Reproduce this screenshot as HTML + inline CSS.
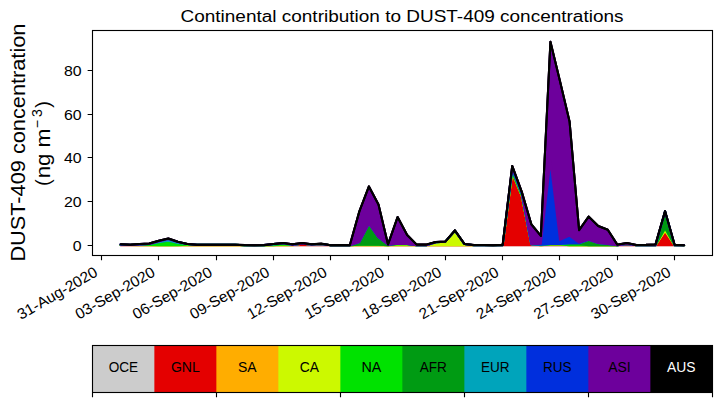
<!DOCTYPE html><html><head><meta charset="utf-8"><style>html,body{margin:0;padding:0;background:#fff;}svg{display:block;}text{font-family:"Liberation Sans",sans-serif;}</style></head><body>
<svg width="721" height="402" viewBox="0 0 721 402">
<rect width="721" height="402" fill="#fff"/>
<defs><clipPath id="ax"><rect x="92.5" y="30.5" width="620.0" height="225.0"/></clipPath></defs>
<g clip-path="url(#ax)">
<path d="M120.54 245.27 L130.09 245.27 L139.65 245.27 L149.20 245.27 L158.75 245.27 L168.31 245.27 L177.86 245.27 L187.41 245.27 L196.97 245.27 L206.52 245.27 L216.07 245.27 L225.63 245.27 L235.18 245.27 L244.73 245.27 L254.29 245.27 L263.84 245.27 L273.39 245.27 L282.95 245.27 L292.50 245.27 L302.05 245.27 L311.60 245.27 L321.16 245.27 L330.71 245.27 L340.26 245.27 L349.82 245.27 L359.37 245.27 L368.92 245.27 L378.48 245.27 L388.03 245.27 L397.58 245.27 L407.14 245.27 L416.69 245.27 L426.24 245.27 L435.80 245.27 L445.35 245.27 L454.90 245.27 L464.46 245.27 L474.01 245.27 L483.56 245.27 L493.12 245.27 L502.67 245.27 L512.22 245.27 L521.77 245.27 L531.33 245.27 L540.88 245.27 L550.43 245.27 L559.99 245.27 L569.54 245.27 L579.09 245.27 L588.65 245.27 L598.20 245.27 L607.75 245.27 L617.31 245.27 L626.86 245.27 L636.41 245.27 L645.97 245.27 L655.52 245.27 L665.07 245.27 L674.63 245.27 L684.18 245.27 L684.18 245.27 L674.63 245.27 L665.07 245.27 L655.52 245.27 L645.97 245.27 L636.41 245.27 L626.86 245.27 L617.31 245.27 L607.75 245.27 L598.20 245.27 L588.65 245.27 L579.09 245.27 L569.54 245.27 L559.99 245.27 L550.43 245.27 L540.88 245.27 L531.33 245.27 L521.77 245.27 L512.22 245.27 L502.67 245.27 L493.12 245.27 L483.56 245.27 L474.01 245.27 L464.46 245.27 L454.90 245.27 L445.35 245.27 L435.80 245.27 L426.24 245.27 L416.69 245.27 L407.14 245.27 L397.58 245.27 L388.03 245.27 L378.48 245.27 L368.92 245.27 L359.37 245.27 L349.82 245.27 L340.26 245.27 L330.71 245.27 L321.16 245.27 L311.60 245.27 L302.05 245.27 L292.50 245.27 L282.95 245.27 L273.39 245.27 L263.84 245.27 L254.29 245.27 L244.73 245.27 L235.18 245.27 L225.63 245.27 L216.07 245.27 L206.52 245.27 L196.97 245.27 L187.41 245.27 L177.86 245.27 L168.31 245.27 L158.75 245.27 L149.20 245.27 L139.65 245.27 L130.09 245.27 L120.54 245.27Z" fill="#cccccc" stroke="#cccccc" stroke-width="2.0" stroke-linejoin="round"/>
<path d="M120.54 244.94 L130.09 245.05 L139.65 245.27 L149.20 245.27 L158.75 245.27 L168.31 245.27 L177.86 245.27 L187.41 245.27 L196.97 245.27 L206.52 245.27 L216.07 245.27 L225.63 245.27 L235.18 245.27 L244.73 245.27 L254.29 245.27 L263.84 245.27 L273.39 245.27 L282.95 245.27 L292.50 245.27 L302.05 243.74 L311.60 244.62 L321.16 243.96 L330.71 245.27 L340.26 245.27 L349.82 245.27 L359.37 245.27 L368.92 245.27 L378.48 245.27 L388.03 245.27 L397.58 245.27 L407.14 245.27 L416.69 245.27 L426.24 245.27 L435.80 245.27 L445.35 245.27 L454.90 245.27 L464.46 245.27 L474.01 245.27 L483.56 245.27 L493.12 245.27 L502.67 245.27 L512.22 172.64 L521.77 196.05 L531.33 244.40 L540.88 245.27 L550.43 244.62 L559.99 244.62 L569.54 245.27 L579.09 245.27 L588.65 245.27 L598.20 245.27 L607.75 245.27 L617.31 245.27 L626.86 243.96 L636.41 245.27 L645.97 245.27 L655.52 245.27 L665.07 230.83 L674.63 245.27 L684.18 245.27 L684.18 245.27 L674.63 245.27 L665.07 245.27 L655.52 245.27 L645.97 245.27 L636.41 245.27 L626.86 245.27 L617.31 245.27 L607.75 245.27 L598.20 245.27 L588.65 245.27 L579.09 245.27 L569.54 245.27 L559.99 245.27 L550.43 245.27 L540.88 245.27 L531.33 245.27 L521.77 245.27 L512.22 245.27 L502.67 245.27 L493.12 245.27 L483.56 245.27 L474.01 245.27 L464.46 245.27 L454.90 245.27 L445.35 245.27 L435.80 245.27 L426.24 245.27 L416.69 245.27 L407.14 245.27 L397.58 245.27 L388.03 245.27 L378.48 245.27 L368.92 245.27 L359.37 245.27 L349.82 245.27 L340.26 245.27 L330.71 245.27 L321.16 245.27 L311.60 245.27 L302.05 245.27 L292.50 245.27 L282.95 245.27 L273.39 245.27 L263.84 245.27 L254.29 245.27 L244.73 245.27 L235.18 245.27 L225.63 245.27 L216.07 245.27 L206.52 245.27 L196.97 245.27 L187.41 245.27 L177.86 245.27 L168.31 245.27 L158.75 245.27 L149.20 245.27 L139.65 245.27 L130.09 245.27 L120.54 245.27Z" fill="#e40000" stroke="#e40000" stroke-width="2.0" stroke-linejoin="round"/>
<path d="M120.54 244.88 L130.09 244.99 L139.65 245.21 L149.20 245.21 L158.75 245.21 L168.31 245.21 L177.86 245.21 L187.41 245.21 L196.97 245.21 L206.52 245.21 L216.07 245.21 L225.63 245.21 L235.18 245.21 L244.73 245.21 L254.29 245.21 L263.84 245.21 L273.39 245.21 L282.95 245.21 L292.50 245.21 L302.05 243.68 L311.60 244.55 L321.16 243.89 L330.71 245.21 L340.26 245.21 L349.82 245.21 L359.37 245.21 L368.92 245.21 L378.48 245.21 L388.03 245.21 L397.58 245.21 L407.14 245.21 L416.69 245.21 L426.24 245.21 L435.80 245.21 L445.35 245.21 L454.90 245.21 L464.46 245.21 L474.01 245.21 L483.56 245.21 L493.12 245.21 L502.67 245.21 L512.22 172.58 L521.77 195.98 L531.33 244.33 L540.88 245.21 L550.43 244.55 L559.99 244.55 L569.54 245.21 L579.09 245.21 L588.65 245.21 L598.20 245.21 L607.75 245.21 L617.31 245.21 L626.86 243.89 L636.41 245.21 L645.97 245.21 L655.52 245.21 L665.07 230.77 L674.63 245.21 L684.18 245.21 L684.18 245.27 L674.63 245.27 L665.07 230.83 L655.52 245.27 L645.97 245.27 L636.41 245.27 L626.86 243.96 L617.31 245.27 L607.75 245.27 L598.20 245.27 L588.65 245.27 L579.09 245.27 L569.54 245.27 L559.99 244.62 L550.43 244.62 L540.88 245.27 L531.33 244.40 L521.77 196.05 L512.22 172.64 L502.67 245.27 L493.12 245.27 L483.56 245.27 L474.01 245.27 L464.46 245.27 L454.90 245.27 L445.35 245.27 L435.80 245.27 L426.24 245.27 L416.69 245.27 L407.14 245.27 L397.58 245.27 L388.03 245.27 L378.48 245.27 L368.92 245.27 L359.37 245.27 L349.82 245.27 L340.26 245.27 L330.71 245.27 L321.16 243.96 L311.60 244.62 L302.05 243.74 L292.50 245.27 L282.95 245.27 L273.39 245.27 L263.84 245.27 L254.29 245.27 L244.73 245.27 L235.18 245.27 L225.63 245.27 L216.07 245.27 L206.52 245.27 L196.97 245.27 L187.41 245.27 L177.86 245.27 L168.31 245.27 L158.75 245.27 L149.20 245.27 L139.65 245.27 L130.09 245.05 L120.54 244.94Z" fill="#ffad00" stroke="#ffad00" stroke-width="2.0" stroke-linejoin="round"/>
<path d="M120.54 244.88 L130.09 244.99 L139.65 244.99 L149.20 244.99 L158.75 245.21 L168.31 245.21 L177.86 245.21 L187.41 244.77 L196.97 244.77 L206.52 244.77 L216.07 244.77 L225.63 244.77 L235.18 244.77 L244.73 245.21 L254.29 245.21 L263.84 245.21 L273.39 245.21 L282.95 244.55 L292.50 244.77 L302.05 243.68 L311.60 244.55 L321.16 243.89 L330.71 245.21 L340.26 245.21 L349.82 245.21 L359.37 244.77 L368.92 244.77 L378.48 244.77 L388.03 245.21 L397.58 244.55 L407.14 244.55 L416.69 245.21 L426.24 245.21 L435.80 242.25 L445.35 241.71 L454.90 230.77 L464.46 244.11 L474.01 245.21 L483.56 245.21 L493.12 245.21 L502.67 245.21 L512.22 172.58 L521.77 195.98 L531.33 244.33 L540.88 245.21 L550.43 244.55 L559.99 244.55 L569.54 245.21 L579.09 245.21 L588.65 245.21 L598.20 245.21 L607.75 245.21 L617.31 245.21 L626.86 243.89 L636.41 245.21 L645.97 245.21 L655.52 245.21 L665.07 228.80 L674.63 245.21 L684.18 245.21 L684.18 245.21 L674.63 245.21 L665.07 230.77 L655.52 245.21 L645.97 245.21 L636.41 245.21 L626.86 243.89 L617.31 245.21 L607.75 245.21 L598.20 245.21 L588.65 245.21 L579.09 245.21 L569.54 245.21 L559.99 244.55 L550.43 244.55 L540.88 245.21 L531.33 244.33 L521.77 195.98 L512.22 172.58 L502.67 245.21 L493.12 245.21 L483.56 245.21 L474.01 245.21 L464.46 245.21 L454.90 245.21 L445.35 245.21 L435.80 245.21 L426.24 245.21 L416.69 245.21 L407.14 245.21 L397.58 245.21 L388.03 245.21 L378.48 245.21 L368.92 245.21 L359.37 245.21 L349.82 245.21 L340.26 245.21 L330.71 245.21 L321.16 243.89 L311.60 244.55 L302.05 243.68 L292.50 245.21 L282.95 245.21 L273.39 245.21 L263.84 245.21 L254.29 245.21 L244.73 245.21 L235.18 245.21 L225.63 245.21 L216.07 245.21 L206.52 245.21 L196.97 245.21 L187.41 245.21 L177.86 245.21 L168.31 245.21 L158.75 245.21 L149.20 245.21 L139.65 245.21 L130.09 244.99 L120.54 244.88Z" fill="#ccf900" stroke="#ccf900" stroke-width="2.0" stroke-linejoin="round"/>
<path d="M120.54 244.66 L130.09 244.99 L139.65 244.55 L149.20 244.11 L158.75 242.36 L168.31 240.83 L177.86 243.02 L187.41 244.11 L196.97 244.77 L206.52 244.77 L216.07 244.77 L225.63 244.77 L235.18 244.77 L244.73 245.21 L254.29 245.21 L263.84 245.21 L273.39 244.44 L282.95 243.79 L292.50 244.77 L302.05 243.68 L311.60 244.55 L321.16 243.89 L330.71 245.21 L340.26 245.21 L349.82 245.21 L359.37 244.77 L368.92 244.77 L378.48 244.77 L388.03 245.21 L397.58 243.68 L407.14 243.89 L416.69 245.21 L426.24 245.21 L435.80 242.25 L445.35 241.71 L454.90 230.77 L464.46 244.11 L474.01 245.21 L483.56 245.21 L493.12 245.21 L502.67 245.21 L512.22 170.39 L521.77 194.89 L531.33 244.33 L540.88 244.77 L550.43 243.89 L559.99 243.89 L569.54 244.33 L579.09 244.11 L588.65 245.21 L598.20 245.21 L607.75 245.21 L617.31 245.21 L626.86 243.89 L636.41 245.21 L645.97 245.21 L655.52 245.21 L665.07 227.71 L674.63 245.21 L684.18 245.21 L684.18 245.21 L674.63 245.21 L665.07 228.80 L655.52 245.21 L645.97 245.21 L636.41 245.21 L626.86 243.89 L617.31 245.21 L607.75 245.21 L598.20 245.21 L588.65 245.21 L579.09 245.21 L569.54 245.21 L559.99 244.55 L550.43 244.55 L540.88 245.21 L531.33 244.33 L521.77 195.98 L512.22 172.58 L502.67 245.21 L493.12 245.21 L483.56 245.21 L474.01 245.21 L464.46 244.11 L454.90 230.77 L445.35 241.71 L435.80 242.25 L426.24 245.21 L416.69 245.21 L407.14 244.55 L397.58 244.55 L388.03 245.21 L378.48 244.77 L368.92 244.77 L359.37 244.77 L349.82 245.21 L340.26 245.21 L330.71 245.21 L321.16 243.89 L311.60 244.55 L302.05 243.68 L292.50 244.77 L282.95 244.55 L273.39 245.21 L263.84 245.21 L254.29 245.21 L244.73 245.21 L235.18 244.77 L225.63 244.77 L216.07 244.77 L206.52 244.77 L196.97 244.77 L187.41 244.77 L177.86 245.21 L168.31 245.21 L158.75 245.21 L149.20 244.99 L139.65 244.99 L130.09 244.99 L120.54 244.88Z" fill="#00e200" stroke="#00e200" stroke-width="2.0" stroke-linejoin="round"/>
<path d="M120.54 244.66 L130.09 244.99 L139.65 244.55 L149.20 244.11 L158.75 242.36 L168.31 240.83 L177.86 243.02 L187.41 244.11 L196.97 244.77 L206.52 244.77 L216.07 244.77 L225.63 244.77 L235.18 244.77 L244.73 245.21 L254.29 245.21 L263.84 245.21 L273.39 244.44 L282.95 243.79 L292.50 244.77 L302.05 243.68 L311.60 244.55 L321.16 243.89 L330.71 245.21 L340.26 245.21 L349.82 245.21 L359.37 242.14 L368.92 223.77 L378.48 237.33 L388.03 244.77 L397.58 243.68 L407.14 243.89 L416.69 245.21 L426.24 245.21 L435.80 242.25 L445.35 241.71 L454.90 230.77 L464.46 244.11 L474.01 245.21 L483.56 245.21 L493.12 245.21 L502.67 245.21 L512.22 169.73 L521.77 194.23 L531.33 244.33 L540.88 244.77 L550.43 243.89 L559.99 243.89 L569.54 243.24 L579.09 243.24 L588.65 239.74 L598.20 243.02 L607.75 244.11 L617.31 245.21 L626.86 243.89 L636.41 245.21 L645.97 245.21 L655.52 245.21 L665.07 211.30 L674.63 245.21 L684.18 245.21 L684.18 245.21 L674.63 245.21 L665.07 227.71 L655.52 245.21 L645.97 245.21 L636.41 245.21 L626.86 243.89 L617.31 245.21 L607.75 245.21 L598.20 245.21 L588.65 245.21 L579.09 244.11 L569.54 244.33 L559.99 243.89 L550.43 243.89 L540.88 244.77 L531.33 244.33 L521.77 194.89 L512.22 170.39 L502.67 245.21 L493.12 245.21 L483.56 245.21 L474.01 245.21 L464.46 244.11 L454.90 230.77 L445.35 241.71 L435.80 242.25 L426.24 245.21 L416.69 245.21 L407.14 243.89 L397.58 243.68 L388.03 245.21 L378.48 244.77 L368.92 244.77 L359.37 244.77 L349.82 245.21 L340.26 245.21 L330.71 245.21 L321.16 243.89 L311.60 244.55 L302.05 243.68 L292.50 244.77 L282.95 243.79 L273.39 244.44 L263.84 245.21 L254.29 245.21 L244.73 245.21 L235.18 244.77 L225.63 244.77 L216.07 244.77 L206.52 244.77 L196.97 244.77 L187.41 244.11 L177.86 243.02 L168.31 240.83 L158.75 242.36 L149.20 244.11 L139.65 244.55 L130.09 244.99 L120.54 244.66Z" fill="#009b13" stroke="#009b13" stroke-width="2.0" stroke-linejoin="round"/>
<path d="M120.54 244.66 L130.09 244.88 L139.65 244.55 L149.20 244.11 L158.75 241.27 L168.31 239.08 L177.86 241.93 L187.41 244.11 L196.97 244.77 L206.52 244.77 L216.07 244.77 L225.63 244.77 L235.18 244.77 L244.73 245.21 L254.29 245.21 L263.84 245.21 L273.39 244.11 L282.95 243.13 L292.50 244.77 L302.05 243.68 L311.60 244.55 L321.16 243.89 L330.71 245.21 L340.26 245.21 L349.82 245.21 L359.37 242.14 L368.92 223.77 L378.48 237.33 L388.03 244.77 L397.58 243.68 L407.14 243.89 L416.69 245.21 L426.24 245.21 L435.80 242.25 L445.35 241.71 L454.90 230.77 L464.46 244.11 L474.01 245.21 L483.56 245.21 L493.12 245.21 L502.67 245.21 L512.22 169.08 L521.77 193.58 L531.33 244.33 L540.88 244.77 L550.43 243.89 L559.99 243.89 L569.54 243.24 L579.09 243.24 L588.65 239.74 L598.20 243.02 L607.75 244.11 L617.31 245.21 L626.86 243.89 L636.41 245.21 L645.97 245.21 L655.52 245.21 L665.07 211.30 L674.63 245.21 L684.18 245.21 L684.18 245.21 L674.63 245.21 L665.07 211.30 L655.52 245.21 L645.97 245.21 L636.41 245.21 L626.86 243.89 L617.31 245.21 L607.75 244.11 L598.20 243.02 L588.65 239.74 L579.09 243.24 L569.54 243.24 L559.99 243.89 L550.43 243.89 L540.88 244.77 L531.33 244.33 L521.77 194.23 L512.22 169.73 L502.67 245.21 L493.12 245.21 L483.56 245.21 L474.01 245.21 L464.46 244.11 L454.90 230.77 L445.35 241.71 L435.80 242.25 L426.24 245.21 L416.69 245.21 L407.14 243.89 L397.58 243.68 L388.03 244.77 L378.48 237.33 L368.92 223.77 L359.37 242.14 L349.82 245.21 L340.26 245.21 L330.71 245.21 L321.16 243.89 L311.60 244.55 L302.05 243.68 L292.50 244.77 L282.95 243.79 L273.39 244.44 L263.84 245.21 L254.29 245.21 L244.73 245.21 L235.18 244.77 L225.63 244.77 L216.07 244.77 L206.52 244.77 L196.97 244.77 L187.41 244.11 L177.86 243.02 L168.31 240.83 L158.75 242.36 L149.20 244.11 L139.65 244.55 L130.09 244.99 L120.54 244.66Z" fill="#00a4bb" stroke="#00a4bb" stroke-width="2.0" stroke-linejoin="round"/>
<path d="M120.54 244.22 L130.09 244.66 L139.65 244.55 L149.20 244.11 L158.75 241.27 L168.31 239.08 L177.86 241.93 L187.41 244.11 L196.97 244.77 L206.52 244.77 L216.07 244.77 L225.63 244.77 L235.18 244.77 L244.73 245.10 L254.29 245.21 L263.84 245.10 L273.39 244.11 L282.95 243.13 L292.50 244.77 L302.05 243.68 L311.60 244.55 L321.16 243.89 L330.71 245.21 L340.26 245.21 L349.82 245.21 L359.37 242.14 L368.92 223.77 L378.48 237.33 L388.03 244.77 L397.58 243.68 L407.14 243.89 L416.69 245.21 L426.24 245.21 L435.80 242.25 L445.35 241.71 L454.90 230.77 L464.46 244.11 L474.01 245.21 L483.56 245.21 L493.12 245.21 L502.67 245.21 L512.22 167.33 L521.77 192.48 L531.33 244.33 L540.88 243.68 L550.43 160.76 L559.99 239.96 L569.54 235.58 L579.09 242.58 L588.65 239.74 L598.20 243.02 L607.75 244.11 L617.31 245.21 L626.86 243.89 L636.41 245.21 L645.97 245.21 L655.52 245.21 L665.07 211.30 L674.63 245.21 L684.18 245.21 L684.18 245.21 L674.63 245.21 L665.07 211.30 L655.52 245.21 L645.97 245.21 L636.41 245.21 L626.86 243.89 L617.31 245.21 L607.75 244.11 L598.20 243.02 L588.65 239.74 L579.09 243.24 L569.54 243.24 L559.99 243.89 L550.43 243.89 L540.88 244.77 L531.33 244.33 L521.77 193.58 L512.22 169.08 L502.67 245.21 L493.12 245.21 L483.56 245.21 L474.01 245.21 L464.46 244.11 L454.90 230.77 L445.35 241.71 L435.80 242.25 L426.24 245.21 L416.69 245.21 L407.14 243.89 L397.58 243.68 L388.03 244.77 L378.48 237.33 L368.92 223.77 L359.37 242.14 L349.82 245.21 L340.26 245.21 L330.71 245.21 L321.16 243.89 L311.60 244.55 L302.05 243.68 L292.50 244.77 L282.95 243.13 L273.39 244.11 L263.84 245.21 L254.29 245.21 L244.73 245.21 L235.18 244.77 L225.63 244.77 L216.07 244.77 L206.52 244.77 L196.97 244.77 L187.41 244.11 L177.86 241.93 L168.31 239.08 L158.75 241.27 L149.20 244.11 L139.65 244.55 L130.09 244.88 L120.54 244.66Z" fill="#002fdd" stroke="#002fdd" stroke-width="2.0" stroke-linejoin="round"/>
<path d="M120.54 244.18 L130.09 244.66 L139.65 243.96 L149.20 243.52 L158.75 240.68 L168.31 238.49 L177.86 241.77 L187.41 243.96 L196.97 244.73 L206.52 244.73 L216.07 244.73 L225.63 244.77 L235.18 244.73 L244.73 245.10 L254.29 245.21 L263.84 245.10 L273.39 243.96 L282.95 243.09 L292.50 244.29 L302.05 243.09 L311.60 244.29 L321.16 243.63 L330.71 245.21 L340.26 245.16 L349.82 245.21 L359.37 211.36 L368.92 186.42 L378.48 204.58 L388.03 244.40 L397.58 217.05 L407.14 234.99 L416.69 244.62 L426.24 244.62 L435.80 241.99 L445.35 241.55 L454.90 230.40 L464.46 243.96 L474.01 245.05 L483.56 245.05 L493.12 245.21 L502.67 244.84 L512.22 165.97 L521.77 191.89 L531.33 224.27 L540.88 235.87 L550.43 41.82 L559.99 81.20 L569.54 121.45 L579.09 230.18 L588.65 216.61 L598.20 226.02 L607.75 229.74 L617.31 244.62 L626.86 243.09 L636.41 245.05 L645.97 244.84 L655.52 244.40 L665.07 211.15 L674.63 244.84 L684.18 245.21 L684.18 245.21 L674.63 245.21 L665.07 211.30 L655.52 245.21 L645.97 245.21 L636.41 245.21 L626.86 243.89 L617.31 245.21 L607.75 244.11 L598.20 243.02 L588.65 239.74 L579.09 242.58 L569.54 235.58 L559.99 239.96 L550.43 160.76 L540.88 243.68 L531.33 244.33 L521.77 192.48 L512.22 167.33 L502.67 245.21 L493.12 245.21 L483.56 245.21 L474.01 245.21 L464.46 244.11 L454.90 230.77 L445.35 241.71 L435.80 242.25 L426.24 245.21 L416.69 245.21 L407.14 243.89 L397.58 243.68 L388.03 244.77 L378.48 237.33 L368.92 223.77 L359.37 242.14 L349.82 245.21 L340.26 245.21 L330.71 245.21 L321.16 243.89 L311.60 244.55 L302.05 243.68 L292.50 244.77 L282.95 243.13 L273.39 244.11 L263.84 245.10 L254.29 245.21 L244.73 245.10 L235.18 244.77 L225.63 244.77 L216.07 244.77 L206.52 244.77 L196.97 244.77 L187.41 244.11 L177.86 241.93 L168.31 239.08 L158.75 241.27 L149.20 244.11 L139.65 244.55 L130.09 244.66 L120.54 244.22Z" fill="#6d009c" stroke="#6d009c" stroke-width="2.0" stroke-linejoin="round"/>
<path d="M120.54 244.18 L130.09 244.66 L139.65 243.96 L149.20 243.52 L158.75 240.68 L168.31 238.49 L177.86 241.77 L187.41 243.96 L196.97 244.73 L206.52 244.73 L216.07 244.73 L225.63 244.77 L235.18 244.73 L244.73 245.10 L254.29 245.21 L263.84 245.10 L273.39 243.96 L282.95 243.09 L292.50 244.29 L302.05 243.09 L311.60 244.29 L321.16 243.63 L330.71 245.21 L340.26 245.16 L349.82 245.21 L359.37 211.36 L368.92 186.42 L378.48 204.58 L388.03 244.40 L397.58 217.05 L407.14 234.99 L416.69 244.62 L426.24 244.62 L435.80 241.99 L445.35 241.55 L454.90 230.40 L464.46 243.96 L474.01 245.05 L483.56 245.05 L493.12 245.21 L502.67 244.84 L512.22 165.97 L521.77 191.89 L531.33 224.27 L540.88 235.87 L550.43 41.82 L559.99 81.20 L569.54 121.45 L579.09 230.18 L588.65 216.61 L598.20 226.02 L607.75 229.74 L617.31 244.62 L626.86 243.09 L636.41 245.05 L645.97 244.84 L655.52 244.40 L665.07 211.15 L674.63 244.84 L684.18 245.21 L684.18 245.21 L674.63 244.84 L665.07 211.15 L655.52 244.40 L645.97 244.84 L636.41 245.05 L626.86 243.09 L617.31 244.62 L607.75 229.74 L598.20 226.02 L588.65 216.61 L579.09 230.18 L569.54 121.45 L559.99 81.20 L550.43 41.82 L540.88 235.87 L531.33 224.27 L521.77 191.89 L512.22 165.97 L502.67 244.84 L493.12 245.21 L483.56 245.05 L474.01 245.05 L464.46 243.96 L454.90 230.40 L445.35 241.55 L435.80 241.99 L426.24 244.62 L416.69 244.62 L407.14 234.99 L397.58 217.05 L388.03 244.40 L378.48 204.58 L368.92 186.42 L359.37 211.36 L349.82 245.21 L340.26 245.16 L330.71 245.21 L321.16 243.63 L311.60 244.29 L302.05 243.09 L292.50 244.29 L282.95 243.09 L273.39 243.96 L263.84 245.10 L254.29 245.21 L244.73 245.10 L235.18 244.73 L225.63 244.77 L216.07 244.73 L206.52 244.73 L196.97 244.73 L187.41 243.96 L177.86 241.77 L168.31 238.49 L158.75 240.68 L149.20 243.52 L139.65 243.96 L130.09 244.66 L120.54 244.18Z" fill="#000000" stroke="#000000" stroke-width="2.0" stroke-linejoin="round"/>
<path d="M120.54 244.18 L130.09 244.66 L139.65 243.96 L149.20 243.52 L158.75 240.68 L168.31 238.49 L177.86 241.77 L187.41 243.96 L196.97 244.73 L206.52 244.73 L216.07 244.73 L225.63 244.77 L235.18 244.73 L244.73 245.10 L254.29 245.21 L263.84 245.10 L273.39 243.96 L282.95 243.09 L292.50 244.29 L302.05 243.09 L311.60 244.29 L321.16 243.63 L330.71 245.21 L340.26 245.16 L349.82 245.21 L359.37 211.36 L368.92 186.42 L378.48 204.58 L388.03 244.40 L397.58 217.05 L407.14 234.99 L416.69 244.62 L426.24 244.62 L435.80 241.99 L445.35 241.55 L454.90 230.40 L464.46 243.96 L474.01 245.05 L483.56 245.05 L493.12 245.21 L502.67 244.84 L512.22 165.97 L521.77 191.89 L531.33 224.27 L540.88 235.87 L550.43 41.82 L559.99 81.20 L569.54 121.45 L579.09 230.18 L588.65 216.61 L598.20 226.02 L607.75 229.74 L617.31 244.62 L626.86 243.09 L636.41 245.05 L645.97 244.84 L655.52 244.40 L665.07 211.15 L674.63 244.84 L684.18 245.21" fill="none" stroke="#000" stroke-width="2.083" stroke-linejoin="round" stroke-linecap="butt"/>
</g>
<rect x="92.5" y="30.5" width="620.0" height="225.0" fill="none" stroke="#000" stroke-width="1.111"/>
<path d="M101.5 255.5V260.361M158.5 255.5V260.361M216.5 255.5V260.361M273.5 255.5V260.361M330.5 255.5V260.361M388.5 255.5V260.361M445.5 255.5V260.361M502.5 255.5V260.361M559.5 255.5V260.361M617.5 255.5V260.361M674.5 255.5V260.361M92.5 245.5H87.639M92.5 201.5H87.639M92.5 157.5H87.639M92.5 114.5H87.639M92.5 70.5H87.639" stroke="#000" stroke-width="1.111" fill="none"/>
<text transform="translate(21.02 320.09) rotate(-30)" font-size="15.2" textLength="89.85" lengthAdjust="spacingAndGlyphs">31-Aug-2020</text>
<text transform="translate(78.88 319.77) rotate(-30)" font-size="15.2" textLength="89.22" lengthAdjust="spacingAndGlyphs">03-Sep-2020</text>
<text transform="translate(136.20 319.77) rotate(-30)" font-size="15.2" textLength="89.22" lengthAdjust="spacingAndGlyphs">06-Sep-2020</text>
<text transform="translate(193.52 319.77) rotate(-30)" font-size="15.2" textLength="89.22" lengthAdjust="spacingAndGlyphs">09-Sep-2020</text>
<text transform="translate(250.84 319.77) rotate(-30)" font-size="15.2" textLength="89.22" lengthAdjust="spacingAndGlyphs">12-Sep-2020</text>
<text transform="translate(308.16 319.77) rotate(-30)" font-size="15.2" textLength="89.22" lengthAdjust="spacingAndGlyphs">15-Sep-2020</text>
<text transform="translate(365.48 319.77) rotate(-30)" font-size="15.2" textLength="89.22" lengthAdjust="spacingAndGlyphs">18-Sep-2020</text>
<text transform="translate(422.79 319.77) rotate(-30)" font-size="15.2" textLength="89.22" lengthAdjust="spacingAndGlyphs">21-Sep-2020</text>
<text transform="translate(480.11 319.77) rotate(-30)" font-size="15.2" textLength="89.22" lengthAdjust="spacingAndGlyphs">24-Sep-2020</text>
<text transform="translate(537.43 319.77) rotate(-30)" font-size="15.2" textLength="89.22" lengthAdjust="spacingAndGlyphs">27-Sep-2020</text>
<text transform="translate(594.75 319.77) rotate(-30)" font-size="15.2" textLength="89.22" lengthAdjust="spacingAndGlyphs">30-Sep-2020</text>
<text x="81.68" y="250.95" font-size="15.2" text-anchor="end" textLength="8.84" lengthAdjust="spacingAndGlyphs">0</text>
<text x="81.68" y="207.20" font-size="15.2" text-anchor="end" textLength="17.67" lengthAdjust="spacingAndGlyphs">20</text>
<text x="81.68" y="163.44" font-size="15.2" text-anchor="end" textLength="17.67" lengthAdjust="spacingAndGlyphs">40</text>
<text x="81.68" y="119.69" font-size="15.2" text-anchor="end" textLength="17.67" lengthAdjust="spacingAndGlyphs">60</text>
<text x="81.68" y="75.94" font-size="15.2" text-anchor="end" textLength="17.67" lengthAdjust="spacingAndGlyphs">80</text>
<text x="402.00" y="22.47" font-size="17.3" text-anchor="middle" textLength="443" lengthAdjust="spacingAndGlyphs">Continental contribution to DUST-409 concentrations</text>
<text transform="translate(24.89 261.61) rotate(-90)" font-size="20.2" textLength="238" lengthAdjust="spacingAndGlyphs">DUST-409 concentration</text>
<g transform="translate(50.17 185.88) rotate(-90)" font-size="20.2">
<text x="0.00" y="-0.51" font-size="20.20" >(</text>
<text x="7.59" y="-0.51" font-size="20.20" textLength="24.67" lengthAdjust="spacingAndGlyphs">ng</text>
<text x="38.43" y="-0.51" font-size="20.20" textLength="18.94" lengthAdjust="spacingAndGlyphs">m</text>
<text x="78.16" y="-0.51" font-size="20.20" >)</text>
<text x="57.56" y="-7.95" font-size="14.14" >−</text>
<text x="68.97" y="-7.95" font-size="14.14" >3</text>
</g>
<rect x="92.36" y="345.5" width="63" height="47.0" fill="#cccccc"/>
<rect x="154.36" y="345.5" width="63" height="47.0" fill="#e40000"/>
<rect x="216.36" y="345.5" width="63" height="47.0" fill="#ffad00"/>
<rect x="278.36" y="345.5" width="63" height="47.0" fill="#ccf900"/>
<rect x="340.36" y="345.5" width="63" height="47.0" fill="#00e200"/>
<rect x="402.36" y="345.5" width="63" height="47.0" fill="#009b13"/>
<rect x="464.36" y="345.5" width="63" height="47.0" fill="#00a4bb"/>
<rect x="526.36" y="345.5" width="63" height="47.0" fill="#002fdd"/>
<rect x="588.36" y="345.5" width="63" height="47.0" fill="#6d009c"/>
<rect x="650.36" y="345.5" width="62" height="47.0" fill="#000000"/>
<rect x="92.5" y="345.5" width="620" height="47.0" fill="none" stroke="#000" stroke-width="1.111"/>
<path d="M92.5 392.5V397.361M216.5 392.5V397.361M340.5 392.5V397.361M464.5 392.5V397.361M588.5 392.5V397.361M712.5 392.5V397.361" stroke="#000" stroke-width="1.111" fill="none"/>
<text x="123.36" y="372.33" font-size="15.2" text-anchor="middle" fill="#000" textLength="29.41" lengthAdjust="spacingAndGlyphs">OCE</text>
<text x="185.36" y="372.33" font-size="15.2" text-anchor="middle" fill="#000" textLength="28.89" lengthAdjust="spacingAndGlyphs">GNL</text>
<text x="247.36" y="372.33" font-size="15.2" text-anchor="middle" fill="#000" textLength="18.58" lengthAdjust="spacingAndGlyphs">SA</text>
<text x="309.36" y="372.33" font-size="15.2" text-anchor="middle" fill="#000" textLength="19.2" lengthAdjust="spacingAndGlyphs">CA</text>
<text x="371.36" y="372.33" font-size="15.2" text-anchor="middle" fill="#000" textLength="19.89" lengthAdjust="spacingAndGlyphs">NA</text>
<text x="433.36" y="372.33" font-size="15.2" text-anchor="middle" fill="#000" textLength="27.14" lengthAdjust="spacingAndGlyphs">AFR</text>
<text x="495.36" y="372.33" font-size="15.2" text-anchor="middle" fill="#000" textLength="28.59" lengthAdjust="spacingAndGlyphs">EUR</text>
<text x="557.36" y="372.33" font-size="15.2" text-anchor="middle" fill="#000" textLength="28.63" lengthAdjust="spacingAndGlyphs">RUS</text>
<text x="619.36" y="372.33" font-size="15.2" text-anchor="middle" fill="#000" textLength="22.42" lengthAdjust="spacingAndGlyphs">ASI</text>
<text x="681.36" y="372.33" font-size="15.2" text-anchor="middle" fill="#fff" textLength="28.48" lengthAdjust="spacingAndGlyphs">AUS</text>
</svg></body></html>
